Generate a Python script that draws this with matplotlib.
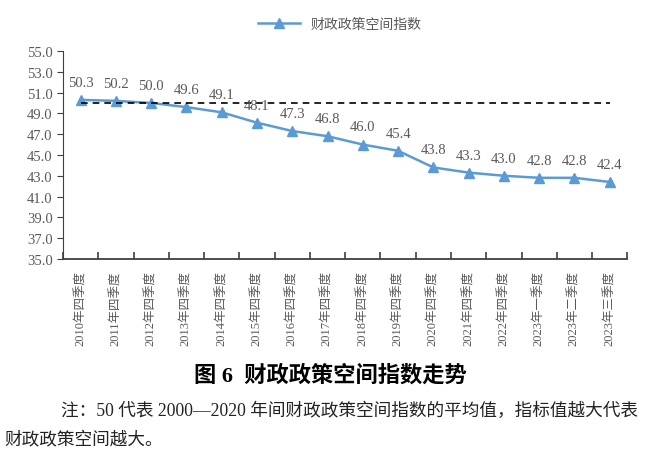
import numpy as np
import matplotlib
matplotlib.use('Agg')
import matplotlib.pyplot as plt

plt.rcParams['font.family'] = ['Liberation Serif', 'Noto Sans CJK SC']

quarters = ['2010年四季度', '2011年四季度', '2012年四季度', '2013年四季度',
            '2014年四季度', '2015年四季度', '2016年四季度', '2017年四季度',
            '2018年四季度', '2019年四季度', '2020年四季度', '2021年四季度',
            '2022年四季度', '2023年一季度', '2023年二季度', '2023年三季度']
index_vals = [50.3, 50.2, 50.0, 49.6, 49.1, 48.1, 47.3, 46.8, 46.0, 45.4,
              43.8, 43.3, 43.0, 42.8, 42.8, 42.4]
baseline = 50.0
yticks = [35.0, 37.0, 39.0, 41.0, 43.0, 45.0, 47.0, 49.0, 51.0, 53.0, 55.0]

blue = '#5B9BD5'
grey = '#595959'

fig = plt.figure(figsize=(6.6, 4.56), dpi=100)
ax = fig.add_axes([0.0955, 0.43, 0.855, 0.456])

x = np.arange(len(index_vals))
ax.plot(x, index_vals, color=blue, lw=1.8, marker='^', ms=7,
        label='财政政策空间指数')
ax.plot([x[0], x[-1]], [baseline, baseline], color='black', ls=(0, (4, 3)), lw=1.2)

for xi, v in zip(x, index_vals):
    ax.annotate(f'{v:.1f}', (xi, v), xytext=(0, 8), textcoords='offset points',
                ha='center', va='bottom', fontsize=10.5, color=grey)

ax.set_xlim(-0.5, len(index_vals) - 0.5)
ax.set_ylim(35, 55)
ax.set_yticks(yticks, [f'{t:.1f}' for t in yticks])
ax.set_xticks(np.arange(-0.5, len(index_vals), 1))
ax.set_xticklabels([])
ax.set_xticks(x, quarters, minor=True, rotation=90)

ax.tick_params(axis='y', direction='out', length=4, labelsize=10.5,
               labelcolor=grey, color='#404040')
ax.tick_params(axis='x', which='major', direction='in', length=5,
               color='#404040', width=1.2)
ax.tick_params(axis='x', which='minor', length=0, labelsize=9,
               labelcolor=grey, pad=8)
for s in ['top', 'right']:
    ax.spines[s].set_visible(False)
for s in ['left', 'bottom']:
    ax.spines[s].set_color('#404040')
ax.spines['bottom'].set_linewidth(1.3)

fig.legend(loc='center', bbox_to_anchor=(0.515, 0.945), frameon=False,
           fontsize=10, labelcolor=grey, handlelength=3)

fig.text(0.5, 0.175, '图 6  财政政策空间指数走势', ha='center', va='center',
         fontsize=16, fontweight='bold', color='black')
fig.text(0.092, 0.097, '注：50 代表 2000—2020 年间财政政策空间指数的平均值，指标值越大代表',
         ha='left', va='center', fontsize=12.7, color='#222222')
fig.text(0.006, 0.035, '财政政策空间越大。', ha='left', va='center',
         fontsize=12.7, color='#222222')

fig.savefig('out.png', dpi=100)
